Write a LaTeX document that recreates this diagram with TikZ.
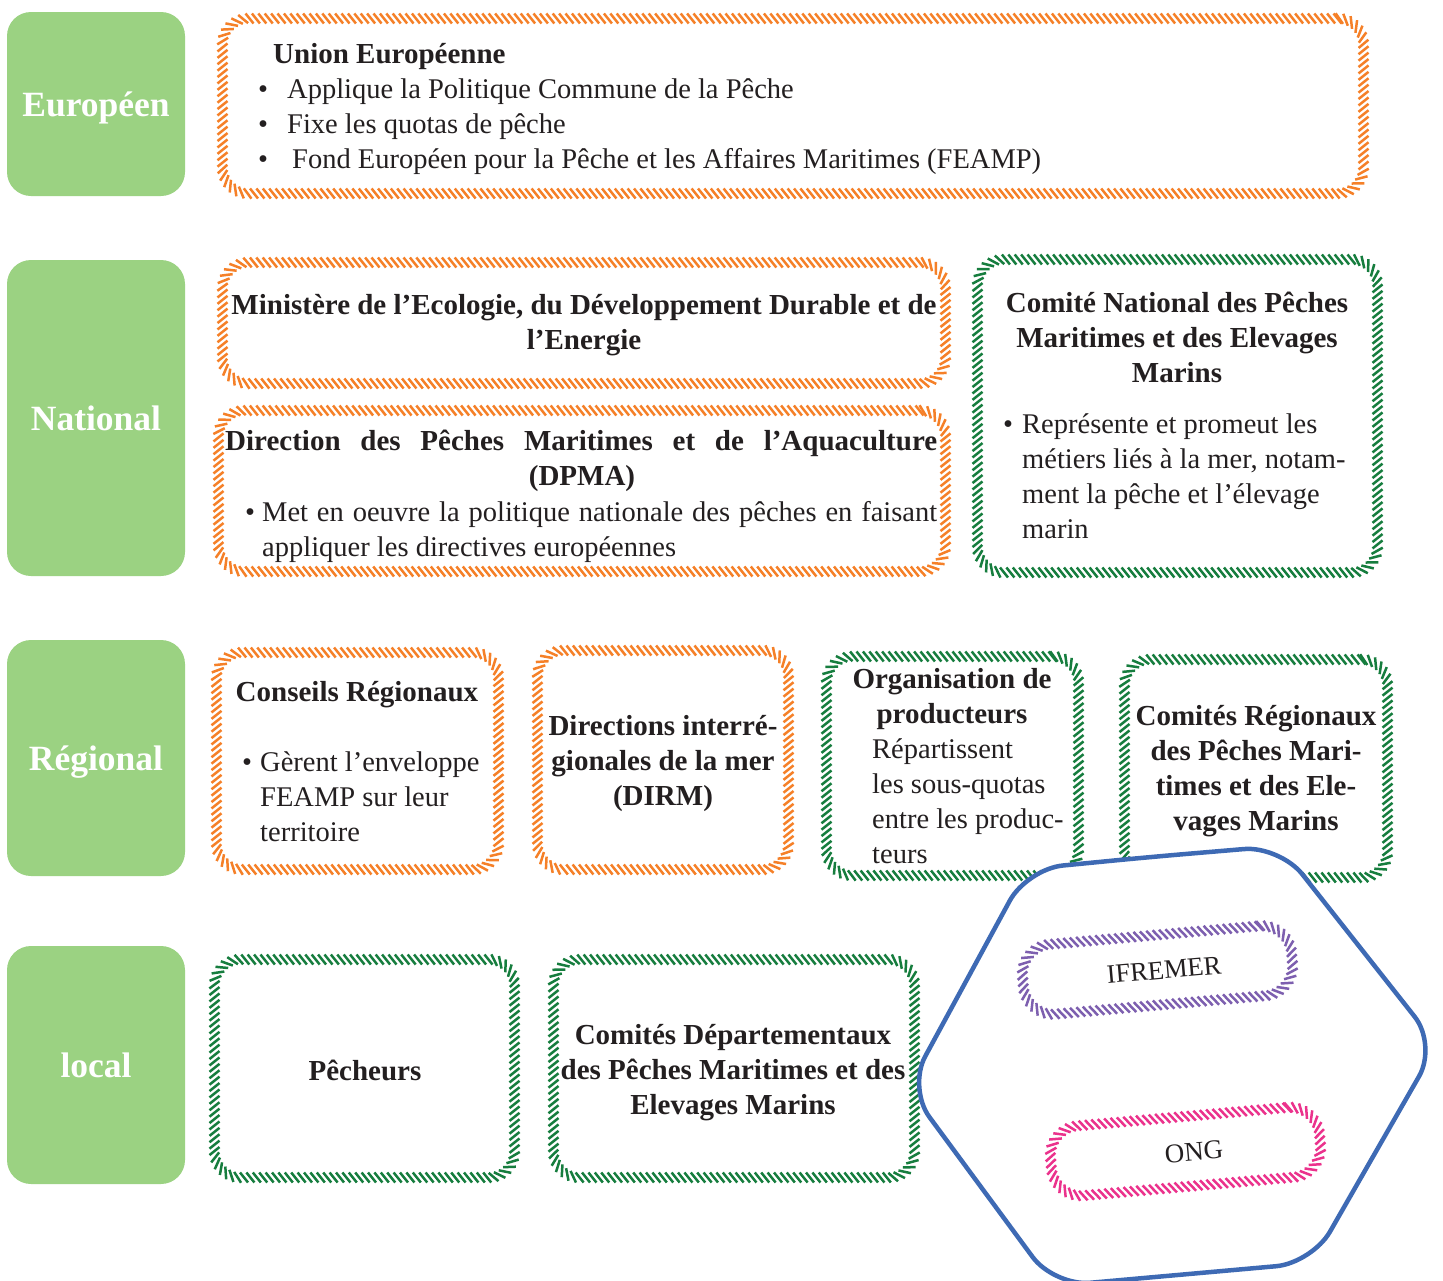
\documentclass[tikz,border=0pt]{standalone}
\usepackage{fontspec}
\setmainfont{Liberation Serif}
\usetikzlibrary{decorations.markings}
\definecolor{hatchor}{RGB}{245,128,40}
\definecolor{hatchgr}{RGB}{22,125,62}
\definecolor{hatchpu}{RGB}{125,95,175}
\definecolor{hatchpk}{RGB}{235,50,140}
\definecolor{lblgreen}{RGB}{155,210,130}
\definecolor{txtc}{RGB}{35,31,32}
\definecolor{hexblue}{RGB}{62,106,180}
\begin{document}
\begin{tikzpicture}[x=1pt,y=-1pt,
  hatchbox/.style={rounded corners=26pt, inner sep=0pt,
    postaction={decorate, decoration={markings,
      mark=between positions 0 and 1 step 6.4pt with {\draw[#1, line width=2.5pt] (-4pt,5pt) -- (4pt,-5pt);}}}},
  lbl/.style={fill=lblgreen, rounded corners=24pt, minimum width=178pt, text=white,
    font=\fontsize{35.5}{40}\selectfont\bfseries, text height=25pt, text depth=0pt, inner sep=0pt},
  txt/.style={text=txtc, inner sep=0pt, font=\fontsize{28.5}{35}\selectfont},
  btxt/.style={text=txtc, inner sep=0pt, font=\fontsize{29}{35}\selectfont\bfseries},
]
\useasboundingbox (0,0) rectangle (1443,1280);

% level labels
\node[lbl, minimum height=184pt] (europeen) at (96,104) {Européen};
\node[lbl, minimum height=316pt] (national) at (96,418) {National};
\node[lbl, minimum height=236pt] (regional) at (96,758) {Régional};
\node[lbl, minimum height=238pt] (local) at (96,1065) {local};

% hatched boxes
\node[hatchbox=hatchor, minimum width=1141pt, minimum height=175pt] (union) at (793,106) {};
\node[hatchbox=hatchor, minimum width=723pt, minimum height=121pt] (minist) at (584,323) {};
\node[hatchbox=hatchor, minimum width=727pt, minimum height=161pt] (dpma) at (582,491) {};
\node[hatchbox=hatchgr, minimum width=400pt, minimum height=313pt] (cnpm) at (1177.5,416) {};
\node[hatchbox=hatchor, minimum width=282pt, minimum height=217pt] (conseils) at (357.5,761) {};
\node[hatchbox=hatchor, minimum width=251pt, minimum height=219pt] (dirm) at (663,760) {};
\node[hatchbox=hatchgr, minimum width=252pt, minimum height=219pt] (orgprod) at (952.5,766) {};
\node[hatchbox=hatchgr, minimum width=263pt, minimum height=218pt] (crpm) at (1256,768.5) {};
\node[hatchbox=hatchgr, minimum width=300pt, minimum height=218pt] (pecheurs) at (364.5,1068.5) {};
\node[hatchbox=hatchgr, minimum width=361pt, minimum height=218pt] (cdpm) at (734,1068.5) {};

% texts (multi-line nodes are anchored at the baseline of their last line)
\node[btxt, anchor=base west] (t1) at (273,63) {Union Européenne};
\node[txt, anchor=base west, align=left] (t2) at (258,168) {\makebox[29pt][l]{•}Applique la Politique Commune de la Pêche\\ \makebox[29pt][l]{•}Fixe les quotas de pêche\\ \makebox[34pt][l]{•}Fond Européen pour la Pêche et les Affaires Maritimes (FEAMP)};

\node[btxt, anchor=base, align=center] (t3) at (584,349) {Ministère de l’Ecologie, du Développement Durable et de\\ l’Energie};

\node[btxt, anchor=base west] (t4) at (225,450) {\makebox[712pt][s]{Direction des Pêches Maritimes et de l’Aquaculture}};
\node[btxt, anchor=base] (t5) at (582,485) {(DPMA)};
\node[txt, anchor=base west, align=left] (t6) at (245,556) {\makebox[17pt][l]{•}\makebox[675pt][s]{Met en oeuvre la politique nationale des pêches en faisant}\\ \hspace*{17pt}appliquer les directives européennes};

\node[btxt, anchor=base, align=center] (t7) at (1177,382) {Comité National des Pêches\\ Maritimes et des Elevages\\ Marins};
\node[txt, anchor=base west, align=left] (t8) at (1003,538) {\makebox[19pt][l]{•}Représente et promeut les\\ \hspace*{19pt}métiers liés à la mer, notam-\\ \hspace*{19pt}ment la pêche et l’élevage\\ \hspace*{19pt}marin};

\node[btxt, anchor=base] (t9) at (357,701) {Conseils Régionaux};
\node[txt, anchor=base west, align=left] (t10) at (242,841) {\makebox[18pt][l]{•}Gèrent l’enveloppe\\ \hspace*{18pt}FEAMP sur leur\\ \hspace*{18pt}territoire};

\node[btxt, anchor=base, align=center] (t11) at (663,805) {Directions interré-\\ gionales de la mer\\ (DIRM)};

\node[btxt, anchor=base, align=center] (t12) at (952,723) {Organisation de\\ producteurs};
\node[txt, anchor=base west, align=left] (t13) at (872,863) {Répartissent\\ les sous-quotas\\ entre les produc-\\ teurs};

\node[btxt, anchor=base, align=center] (t14) at (1256,830) {Comités Régionaux\\ des Pêches Mari-\\ times et des Ele-\\ vages Marins};

\node[btxt, anchor=base] (t15) at (365,1080) {Pêcheurs};
\node[btxt, anchor=base, align=center] (t16) at (733,1114) {Comités Départementaux\\ des Pêches Maritimes et des\\ Elevages Marins};

% hexagon
\coordinate (hA) at (1027,869);
\coordinate (hB) at (1280,846);
\coordinate (hC) at (1437,1045);
\coordinate (hD) at (1312,1263);
\coordinate (hE) at (1054,1286);
\coordinate (hF) at (908,1088);
\coordinate (hM) at (1150,857);
\draw[hexblue, line width=4.5pt, fill=white, rounded corners=36pt] (hM) -- (hB) -- (hC) -- (hD) -- (hE) -- (hF) -- (hA) -- cycle;

\node[hatchbox=hatchpu, rounded corners=30pt, minimum width=270pt, minimum height=70pt, rotate=5] (ifremerbox) at (1157.5,970) {};
\node[txt, font=\fontsize{26.5}{30}\selectfont, rotate=5] (ifremer) at (1164,970) {IFREMER};
\node[hatchbox=hatchpk, rounded corners=30pt, minimum width=270pt, minimum height=70pt, rotate=5] (ongbox) at (1185.5,1151.5) {};
\node[txt, font=\fontsize{27}{30}\selectfont, rotate=5] (ong) at (1194,1152) {ONG};
\end{tikzpicture}
\end{document}
